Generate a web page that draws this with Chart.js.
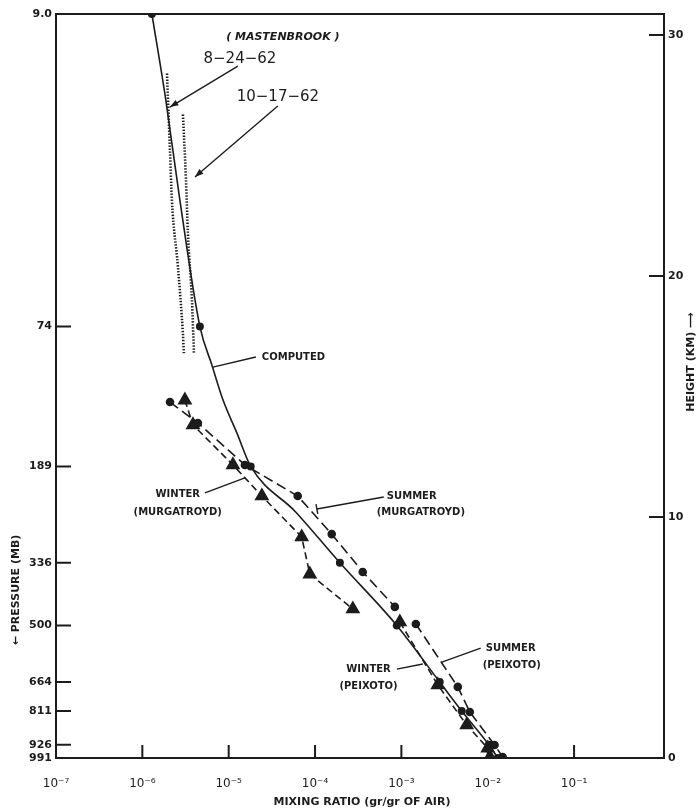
<!DOCTYPE html>
<html>
<head>
<meta charset="utf-8">
<script src="https://cdn.jsdelivr.net/npm/chart.js@4.4.1/dist/chart.umd.min.js"></script>
<style>
  html, body { margin: 0; padding: 0; background: #fff; }
  #wrap { width: 700px; height: 810px; }
</style>
</head>
<body>
<div id="wrap"><canvas id="chart" width="700" height="810"></canvas></div>
<script>
// left axis: pressure labels placed at their height (km)
const pressureLabels = ['9.0', '74', '189', '336', '500', '664', '811', '926', '991'];
const pressureKm     = [30.87, 17.9, 12.1, 8.1, 5.5, 3.15, 1.95, 0.55, 0];
const heightTicks    = [0, 10, 20, 30];
const decadeTicks    = [1e-7, 1e-6, 1e-5, 1e-4, 1e-3, 1e-2, 1e-1];

// computed profile (solid), dots at the pressure levels
const computedX   = [1.29e-6, 1.87e-6, 2.72e-6, 4.64e-6, 6.4e-6, 8.6e-6, 1.24e-5, 1.8e-5, 6.0e-5, 1.94e-4, 8.85e-4, 2.78e-3, 5.0e-3, 1.03e-2, 1.31e-2];
const computedKm  = [30.87, 27.3, 23.15, 17.9, 16.3, 14.85, 13.5, 12.1, 10.2, 8.1, 5.5, 3.15, 1.95, 0.55, 0];
const computedDot = [1, 0, 0, 1, 0, 0, 0, 1, 0, 1, 1, 1, 1, 1, 1];

// Mastenbrook soundings (dotted)
const mast0824X  = [1.93e-6, 2.09e-6, 2.2e-6, 2.58e-6, 2.95e-6, 3.03e-6];
const mast0824Km = [28.4, 25.2, 23.15, 20.4, 17.6, 16.8];
const mast1017X  = [2.95e-6, 3.2e-6, 3.37e-6, 3.75e-6, 3.96e-6];
const mast1017Km = [26.7, 24.0, 21.8, 19.0, 16.8];

// Murgatroyd
const summerMurgX  = [2.09e-6, 4.4e-6, 1.54e-5, 6.3e-5, 1.56e-4, 3.57e-4, 8.4e-4];
const summerMurgKm = [14.77, 13.9, 12.16, 10.87, 9.29, 7.72, 6.27];
const winterMurgX  = [3.11e-6, 3.86e-6, 1.12e-5, 2.42e-5, 7.0e-5, 8.7e-5, 2.74e-4];
const winterMurgKm = [14.85, 13.82, 12.16, 10.87, 9.17, 7.63, 6.18];

// Peixoto
const summerPeixX  = [1.47e-3, 4.5e-3, 6.2e-3, 1.2e-2, 1.49e-2];
const summerPeixKm = [5.56, 2.95, 1.91, 0.54, 0.04];
const winterPeixX  = [9.6e-4, 2.64e-3, 5.7e-3, 1.0e-2, 1.06e-2];
const winterPeixKm = [5.64, 3.03, 1.37, 0.41, 0.04];

const INK  = '#1c1c1c';
const SANS = '"DejaVu Sans", "Liberation Sans", sans-serif';
const KM_TOP = 30.87;

const pts = (xs, ys) => xs.map((x, i) => ({ x, y: ys[i] }));
const SUP = { '-': '\u207B', '0': '\u2070', '1': '\u00B9', '2': '\u00B2', '3': '\u00B3', '4': '\u2074', '5': '\u2075', '6': '\u2076', '7': '\u2077' };
const pow10 = v => '10' + String(Math.round(Math.log10(v))).split('').map(c => SUP[c]).join('');

// annotation text, in (log10 x, km)
const notes = [
  { t: '( MASTENBROOK )', lx: -4.373, km: 29.92, font: `italic bold 11px ${SANS}` },
  { t: '8\u221224\u221262',   lx: -4.87,  km: 29.0,  font: `15px ${SANS}` },
  { t: '10\u221217\u221262',  lx: -4.43,  km: 27.43, font: `15px ${SANS}` },
  { t: 'COMPUTED',        lx: -4.25,  km: 16.64, font: `bold 10px ${SANS}` },
  { t: 'WINTER',          lx: -5.59,  km: 10.95, font: `bold 10px ${SANS}` },
  { t: '(MURGATROYD)',    lx: -5.59,  km: 10.21, font: `bold 10px ${SANS}` },
  { t: 'SUMMER',          lx: -2.88,  km: 10.87, font: `bold 10px ${SANS}` },
  { t: '(MURGATROYD)',    lx: -2.775, km: 10.17, font: `bold 10px ${SANS}` },
  { t: 'WINTER',          lx: -3.38,  km: 3.69,  font: `bold 10px ${SANS}` },
  { t: '(PEIXOTO)',       lx: -3.38,  km: 2.99,  font: `bold 10px ${SANS}` },
  { t: 'SUMMER',          lx: -1.734, km: 4.56,  font: `bold 10px ${SANS}` },
  { t: '(PEIXOTO)',       lx: -1.722, km: 3.86,  font: `bold 10px ${SANS}` },
];
const leaders = [
  { a: [-4.894, 28.71], b: [-5.681, 27.01], arrow: true },
  { a: [-4.431, 27.05], b: [-5.391, 24.11], arrow: true },
  { a: [-4.685, 16.64], b: [-5.183, 16.22] },
  { a: [-5.275, 11.0],  b: [-4.812, 11.62] },
  { a: [-3.204, 10.83], b: [-3.979, 10.33], bar: true },
  { a: [-3.053, 3.69],  b: [-2.752, 3.9] },
  { a: [-2.081, 4.56],  b: [-2.532, 3.98] },
];

const frame = {
  id: 'frame',
  afterDraw(chart) {
    const { ctx, chartArea: a, scales } = chart;
    const sx = scales.x, sy = scales.y;
    ctx.save();
    ctx.strokeStyle = INK;
    ctx.lineWidth = 2;
    ctx.beginPath();
    ctx.moveTo(a.left, a.top); ctx.lineTo(a.right, a.top);
    // inward ticks
    pressureKm.forEach(k => {
      if (k <= 0 || k >= KM_TOP) return;
      const y = sy.getPixelForValue(k);
      ctx.moveTo(a.left, y); ctx.lineTo(a.left + 15, y);
    });
    decadeTicks.slice(1).forEach(v => {
      const x = sx.getPixelForValue(v);
      ctx.moveTo(x, a.bottom); ctx.lineTo(x, a.bottom - 13);
    });
    heightTicks.slice(1).forEach(k => {
      const y = scales.y2.getPixelForValue(k);
      ctx.moveTo(a.right, y); ctx.lineTo(a.right - 15, y);
    });
    ctx.stroke();

    // annotations
    ctx.fillStyle = INK;
    ctx.textAlign = 'center';
    ctx.textBaseline = 'middle';
    notes.forEach(n => {
      ctx.font = n.font;
      ctx.fillText(n.t, sx.getPixelForValue(10 ** n.lx), sy.getPixelForValue(n.km));
    });
    ctx.lineWidth = 1.4;
    leaders.forEach(l => {
      const x1 = sx.getPixelForValue(10 ** l.a[0]), y1 = sy.getPixelForValue(l.a[1]);
      const x2 = sx.getPixelForValue(10 ** l.b[0]), y2 = sy.getPixelForValue(l.b[1]);
      ctx.beginPath(); ctx.moveTo(x1, y1); ctx.lineTo(x2, y2); ctx.stroke();
      const ang = Math.atan2(y2 - y1, x2 - x1);
      if (l.arrow) {
        ctx.beginPath();
        ctx.moveTo(x2, y2);
        ctx.lineTo(x2 - 9 * Math.cos(ang - 0.35), y2 - 9 * Math.sin(ang - 0.35));
        ctx.lineTo(x2 - 9 * Math.cos(ang + 0.35), y2 - 9 * Math.sin(ang + 0.35));
        ctx.closePath(); ctx.fill();
      }
      if (l.bar) {
        const px = -Math.sin(ang) * 5, py = Math.cos(ang) * 5;
        ctx.beginPath(); ctx.moveTo(x2 - px, y2 - py); ctx.lineTo(x2 + px, y2 + py); ctx.stroke();
      }
    });

    // axis titles
    ctx.font = `bold 11px ${SANS}`;
    ctx.save();
    ctx.translate(16, 590); ctx.rotate(-Math.PI / 2);
    ctx.fillText('\u2190 PRESSURE (MB)', 0, 0);
    ctx.restore();
    ctx.save();
    ctx.translate(691, 362); ctx.rotate(-Math.PI / 2);
    ctx.fillText('HEIGHT (KM) \u27F6', 0, 0);
    ctx.restore();
    ctx.fillText('MIXING RATIO (gr/gr OF AIR)', 362, 802);
    ctx.restore();
  },
};

const lineDs = (data, extra) => Object.assign({
  data, showLine: true, yAxisID: 'y',
  borderColor: INK, backgroundColor: INK, pointBackgroundColor: INK, pointBorderColor: INK,
  borderWidth: 1.6, pointRadius: 0, tension: 0,
}, extra);

new Chart(document.getElementById('chart'), {
  type: 'scatter',
  data: {
    datasets: [
      lineDs(pts(computedX, computedKm), { cubicInterpolationMode: 'monotone', pointRadius: computedDot.map(d => d ? 3.2 : 0) }),
      lineDs(pts(mast0824X, mast0824Km), { borderWidth: 2.6, borderDash: [1.4, 1.6], cubicInterpolationMode: 'monotone' }),
      lineDs(pts(mast1017X, mast1017Km), { borderWidth: 2.6, borderDash: [1.4, 1.6], cubicInterpolationMode: 'monotone' }),
      lineDs(pts(summerMurgX, summerMurgKm), { borderDash: [10, 5], pointRadius: 3.5 }),
      lineDs(pts(winterMurgX, winterMurgKm), { borderDash: [7, 4], pointStyle: 'triangle', pointRadius: 7 }),
      lineDs(pts(summerPeixX, summerPeixKm), { borderDash: [10, 5], pointRadius: 3.5 }),
      lineDs(pts(winterPeixX, winterPeixKm), { borderDash: [7, 4], pointStyle: 'triangle', pointRadius: 7 }),
    ],
  },
  options: {
    responsive: false,
    animation: false,
    layout: { padding: { top: 14, left: 0, right: 0, bottom: 0 } },
    plugins: { legend: { display: false }, tooltip: { enabled: false } },
    scales: {
      x: {
        type: 'logarithmic', min: 1e-7, max: 1.1,
        grid: { display: false, drawTicks: false },
        border: { display: true, color: INK, width: 2 },
        afterBuildTicks: s => { s.ticks = decadeTicks.map(v => ({ value: v })); },
        afterFit: s => { s.height = 52; },
        ticks: { autoSkip: false, maxRotation: 0, padding: 19, color: INK, font: { family: SANS, size: 12 }, callback: v => pow10(v) },
      },
      y: {
        type: 'linear', position: 'left', min: 0, max: KM_TOP,
        grid: { display: false, drawTicks: false },
        border: { display: true, color: INK, width: 2 },
        afterBuildTicks: s => { s.ticks = pressureKm.map(v => ({ value: v })); },
        afterFit: s => { s.width = 56; },
        ticks: {
          autoSkip: false, padding: 4, color: INK, font: { family: SANS, size: 11, weight: 'bold' },
          callback: v => pressureLabels[pressureKm.indexOf(v)],
        },
      },
      y2: {
        type: 'linear', position: 'right', min: 0, max: KM_TOP,
        grid: { display: false, drawTicks: false },
        border: { display: true, color: INK, width: 2 },
        afterBuildTicks: s => { s.ticks = heightTicks.map(v => ({ value: v })); },
        afterFit: s => { s.width = 36; },
        ticks: { autoSkip: false, padding: 4, color: INK, font: { family: SANS, size: 11, weight: 'bold' } },
      },
    },
  },
  plugins: [frame],
});
</script>
</body>
</html>
